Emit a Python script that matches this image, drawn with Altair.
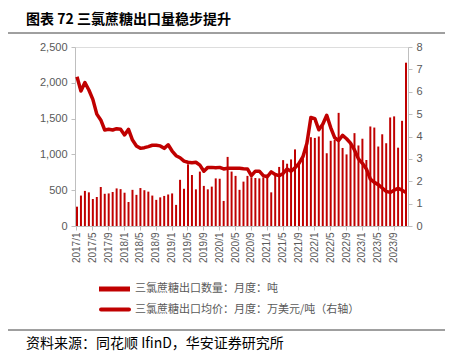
import altair as alt
import pandas as pd

# ---------------- data ----------------
years = [2017, 2018, 2019, 2020, 2021, 2022, 2023]
months = [f"{y}/{m}" for y in years for m in range(1, 13)]
tick_labels = months[::4]

volume_2017 = [270, 425, 490, 470, 377, 405, 545, 450, 455, 475, 525, 515]
volume_2018 = [465, 335, 505, 435, 530, 500, 480, 425, 365, 400, 420, 440]
volume_2019 = [455, 295, 645, 520, 862, 712, 512, 760, 560, 512, 550, 665]
volume_2020 = [660, 350, 965, 760, 700, 505, 620, 700, 680, 670, 665, 680]
volume_2021 = [720, 470, 740, 825, 920, 870, 930, 1070, 876, 1000, 1200, 1240]
volume_2022 = [1230, 1250, 1400, 1016, 1190, 1205, 1580, 1090, 1000, 1156, 1297, 1125]
volume_2023 = [1219, 922, 1390, 1375, 1110, 1281, 1156, 1516, 1531, 1094, 1469, 2281]

price_2017 = [6.67, 6.03, 6.41, 6.08, 5.66, 5.00, 4.74, 4.29, 4.32, 4.29, 4.35, 4.32]
price_2018 = [4.07, 4.32, 3.84, 3.58, 3.47, 3.50, 3.55, 3.61, 3.61, 3.58, 3.47, 3.63]
price_2019 = [3.35, 3.14, 3.05, 2.90, 2.85, 2.83, 2.85, 2.72, 2.45, 2.62, 2.62, 2.60]
price_2020 = [2.62, 2.55, 2.58, 2.58, 2.58, 2.58, 2.56, 2.55, 2.25, 2.45, 2.45, 2.25]
price_2021 = [2.20, 2.42, 2.30, 2.25, 2.35, 2.55, 2.45, 2.60, 2.80, 3.10, 3.70, 4.85]
price_2022 = [4.80, 4.30, 4.55, 4.95, 4.40, 3.95, 3.82, 4.05, 3.90, 3.70, 3.40, 3.00]
price_2023 = [2.80, 2.55, 2.10, 1.95, 1.85, 1.70, 1.55, 1.50, 1.60, 1.68, 1.60, 1.50]

volume = (volume_2017 + volume_2018 + volume_2019 + volume_2020
          + volume_2021 + volume_2022 + volume_2023)
price = (price_2017 + price_2018 + price_2019 + price_2020
         + price_2021 + price_2022 + price_2023)

left_ticks = [0, 500, 1000, 1500, 2000, 2500]
right_ticks = [0, 1, 2, 3, 4, 5, 6, 7, 8]

title_text = "图表 72  三氯蔗糖出口量稳步提升"
series_names = ["三氯蔗糖出口数量：月度：吨", "三氯蔗糖出口均价：月度：万美元/吨（右轴）"]
source_text = "资料来源：同花顺 IfinD，华安证券研究所"

df = pd.DataFrame({"month": months, "volume": volume, "price": price})
one = pd.DataFrame({"k": [0]})

RED = "#C00000"
GRAY = "#595959"
AXIS_GRAY = "#BFBFBF"
LATIN = "Liberation Sans"
CJK = "Noto Sans CJK SC"

x_enc = alt.X(
    "month:N", sort=months, title=None,
    scale=alt.Scale(paddingInner=0.5, paddingOuter=0.25),
    axis=alt.Axis(values=tick_labels, labelAngle=270, labelFontSize=10,
                  labelColor=GRAY, labelFont=LATIN, tickColor=AXIS_GRAY,
                  domainColor=AXIS_GRAY, tickSize=4, labelPadding=2,
                  grid=False),
)

bars = alt.Chart(df).mark_bar(color=RED).encode(
    x=x_enc,
    y=alt.Y("volume:Q", title=None,
            scale=alt.Scale(domain=[0, 2500], nice=False),
            axis=alt.Axis(orient="left", values=left_ticks, format=",.0f",
                          grid=False, labelFontSize=11, labelColor=GRAY,
                          labelFont=LATIN, tickColor=AXIS_GRAY,
                          domainColor=AXIS_GRAY, tickSize=4, labelPadding=4)),
)

line = alt.Chart(df).mark_line(color=RED, strokeWidth=3.5, strokeJoin="round").encode(
    x=x_enc,
    y=alt.Y("price:Q", title=None,
            scale=alt.Scale(domain=[0, 8], nice=False),
            axis=alt.Axis(orient="right", values=right_ticks, format="d",
                          grid=False, labelFontSize=11, labelColor=GRAY,
                          labelFont=LATIN, tickColor=AXIS_GRAY,
                          domainColor=AXIS_GRAY, tickSize=4, labelPadding=4)),
)

# ---------------- decorations (title, legend, source) ----------------
title = alt.Chart(one).mark_text(
    text=title_text, align="left", baseline="alphabetic", fontSize=14,
    fontWeight="bold", font=CJK, color="#000000",
).encode(x=alt.value(-49), y=alt.value(-23))

top_rule = alt.Chart(one).mark_rule(color="#404040", strokeWidth=1).encode(
    x=alt.value(-75), x2=alt.value(380), y=alt.value(-14))

leg_sym1 = alt.Chart(one).mark_rule(color=RED, strokeWidth=5, strokeCap="butt").encode(
    x=alt.value(24), x2=alt.value(55), y=alt.value(242))
leg_sym2 = alt.Chart(one).mark_rule(color=RED, strokeWidth=4, strokeCap="round").encode(
    x=alt.value(26), x2=alt.value(54), y=alt.value(262.5))
leg_txt1 = alt.Chart(one).mark_text(
    text=series_names[0], align="left", baseline="middle", fontSize=11,
    font=CJK, color=GRAY).encode(x=alt.value(60), y=alt.value(242))
leg_txt2 = alt.Chart(one).mark_text(
    text=series_names[1], align="left", baseline="middle", fontSize=11,
    font=CJK, color=GRAY).encode(x=alt.value(60), y=alt.value(263))

bottom_rule = alt.Chart(one).mark_rule(color="#404040", strokeWidth=1).encode(
    x=alt.value(-75), x2=alt.value(380), y=alt.value(283))

source = alt.Chart(one).mark_text(
    text=source_text, align="left", baseline="alphabetic", fontSize=14,
    font=CJK, color="#000000").encode(x=alt.value(-49), y=alt.value(301))

chart = alt.layer(
    bars, line, title, top_rule, leg_sym1, leg_sym2, leg_txt1, leg_txt2,
    bottom_rule, source,
).resolve_scale(y="independent").properties(
    width=333, height=179,
    autosize=alt.AutoSizeParams(type="none"),
    padding={"left": 67, "top": 39, "right": 37, "bottom": 125},
).configure_view(stroke=None).configure(background="white")

chart.save("out.html", embed_options={"renderer": "svg", "actions": False})
